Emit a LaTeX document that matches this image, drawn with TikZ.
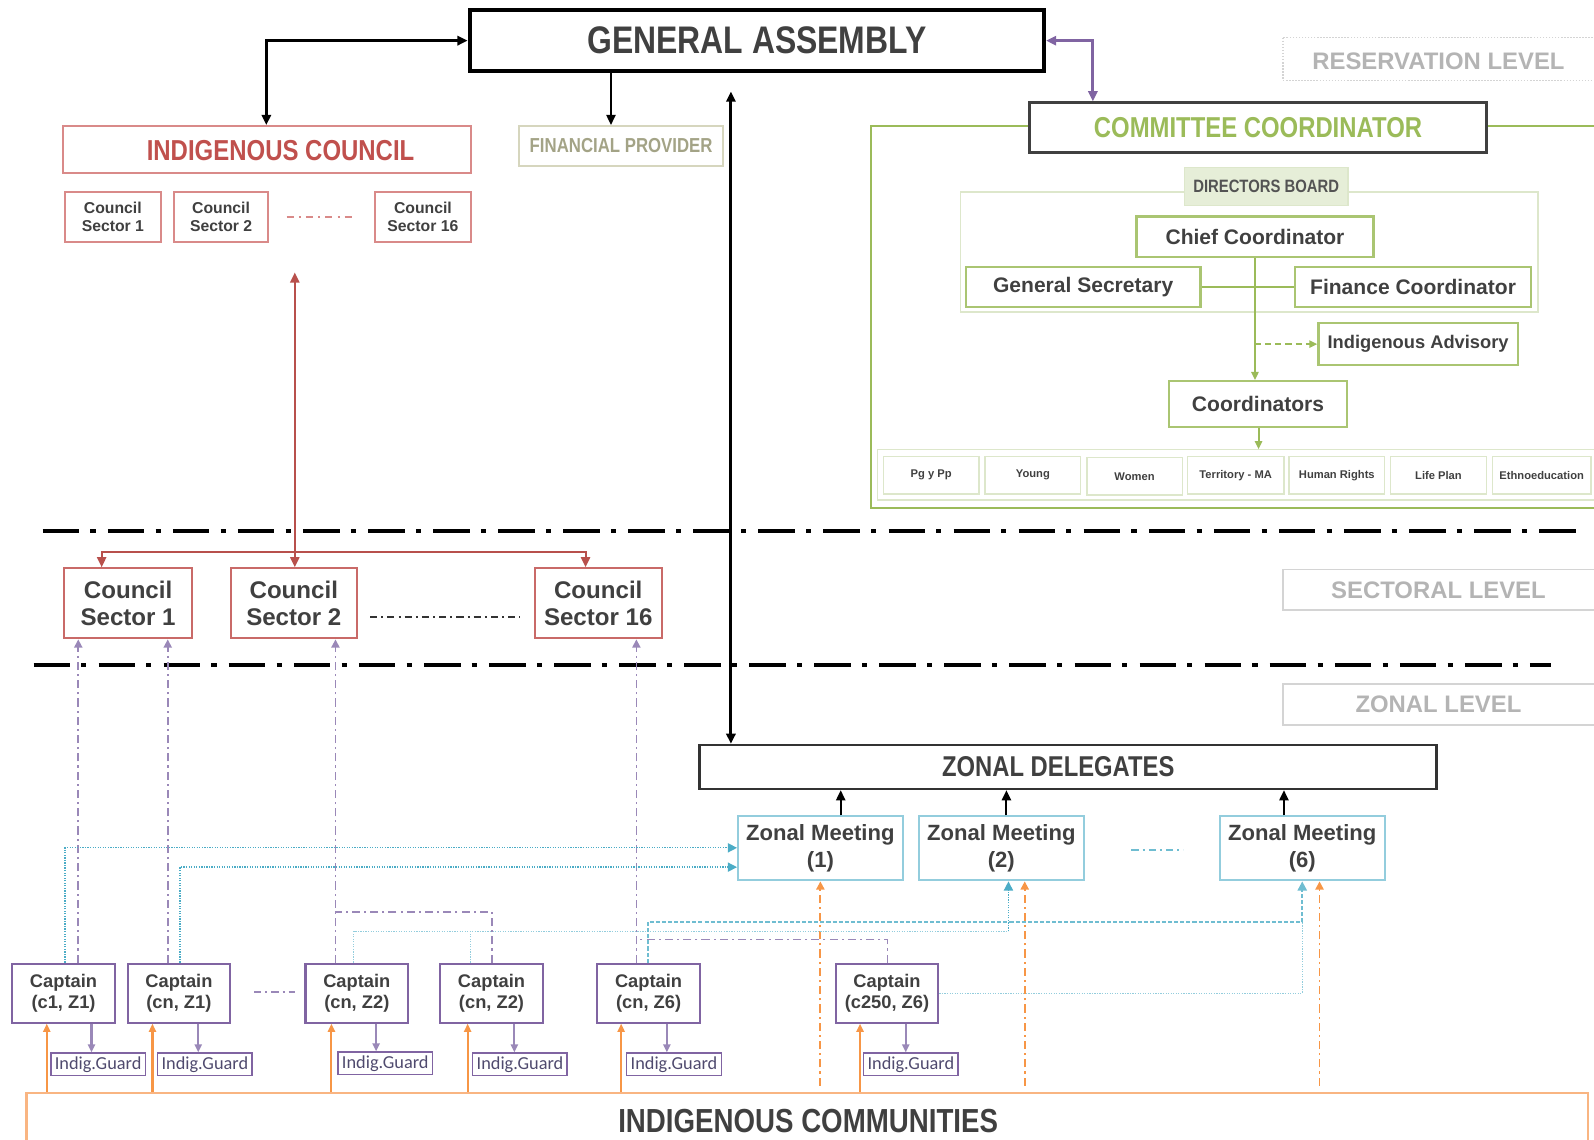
\documentclass[tikz,border=0pt]{standalone}
\usepackage{fontspec}
\setmainfont{Liberation Sans}
\newfontfamily\narrowfont{Liberation Sans}[FakeStretch=0.83]
\newfontfamily\guardfont{Carlito}
\usetikzlibrary{arrows.meta}

\definecolor{txt}{HTML}{404040}
\definecolor{redc}{HTML}{C0504D}
\definecolor{redb}{HTML}{D98A89}
\definecolor{redl}{HTML}{B8504C}
\definecolor{olivet}{HTML}{A3A386}
\definecolor{oliveb}{HTML}{D6D6BE}
\definecolor{greenc}{HTML}{9BBB59}
\definecolor{greenl}{HTML}{DDE7CB}
\definecolor{greenfill}{HTML}{E6EED8}
\definecolor{levelt}{HTML}{B4B4B4}
\definecolor{levelb}{HTML}{D4D4D4}
\definecolor{bluec}{HTML}{4BACC6}
\definecolor{blueb}{HTML}{93CDDD}
\definecolor{purplec}{HTML}{8064A2}
\definecolor{purplel}{HTML}{9A88B8}
\definecolor{orangec}{HTML}{F79646}
\definecolor{orangel}{HTML}{F9B582}
\definecolor{guardt}{HTML}{4F4A6E}

\newcommand\fs[2]{\fontsize{#1}{#2}\selectfont}

\tikzset{
  box/.style={draw, inner sep=0pt, align=center, text=txt},
  bigtip/.style={-{Triangle[length=10pt,width=9pt]}},
  bothtips/.style={{Triangle[length=10pt,width=9pt]}-{Triangle[length=10pt,width=9pt]}},
  smalltip/.style={-{Triangle[length=8pt,width=7pt]}},
  blackline/.style={line width=3pt, black},
  redline/.style={line width=2pt, redl},
  greenline/.style={line width=2pt, greenc},
  separator/.style={line width=4pt, black, dash pattern=on 36pt off 11pt on 5pt off 12pt},
  purpdash/.style={line width=1.6pt, purplel, dash pattern=on 8pt off 4pt on 2pt off 4pt},
  bluedot/.style={line width=1.3pt, blueb, dash pattern=on 1.2pt off 1.3pt},
  bluedash/.style={line width=2pt, bluec!80, dash pattern=on 4pt off 2pt},
  orangedash/.style={line width=1.8pt, orangec, dash pattern=on 8pt off 4pt on 2pt off 4pt},
  levelbox/.style={draw=levelb, line width=1.5pt},
  leveltext/.style={text=levelt, font=\fs{23.5}{28}\bfseries},
  heading/.style={font=\narrowfont\bfseries\fs{#1}{#1}},
  captain/.style={box, draw=purplec, line width=2pt, minimum width=101pt, minimum height=58pt, font=\fs{18}{20}\bfseries},
  guard/.style={box, draw=purplec, line width=1.5pt, minimum width=93pt, minimum height=22pt, text=guardt, font=\fs{18}{20}\guardfont},
  zonal/.style={box, draw=blueb, line width=2pt, minimum width=162pt, minimum height=63pt, font=\fs{21.7}{26}\bfseries},
  sectorbig/.style={box, draw=redc!85, line width=2pt, minimum height=69pt, font=\fs{23.7}{26}\bfseries},
  sectorsmall/.style={box, draw=redb, line width=2pt, minimum height=49pt, font=\fs{15.5}{18}\bfseries},
  greenbox/.style={box, draw=greenc!85, line width=2.2pt, font=\fs{20.7}{24}\bfseries},
  areabox/.style={box, draw=greenl, line width=1.5pt, minimum height=37pt, font=\fs{11}{13}\bfseries},
}

\begin{document}
\begin{tikzpicture}[x=1pt, y=-1pt]
\useasboundingbox (0,0) rectangle (1568,1121);
\clip (0,0) rectangle (1568,1121);

% ---------- reservation level ----------
\node[box, line width=4pt, minimum width=565pt, minimum height=60pt,
      heading=37.8] (GA) at (744.5,40) {GENERAL ASSEMBLY};

\node[box, draw=redb, line width=2pt, minimum width=401pt, minimum height=46pt] (IC) at (262.5,147) {};
\node[text=redc, heading=28.4] (ICt) at (276,148) {INDIGENOUS COUNCIL};

\node[sectorsmall, minimum width=94pt] (s1) at (111,213.5) {Council\\Sector 1};
\node[sectorsmall, minimum width=93pt] (s2) at (217.5,213.5) {Council\\Sector 2};
\node[sectorsmall, minimum width=94pt] (s16) at (416,213.5) {Council\\Sector 16};
\draw[redb, line width=2pt, dash pattern=on 7pt off 5pt on 2pt off 5pt] (282,213) -- (346,213);

\node[box, draw=oliveb, line width=2pt, minimum width=200pt, minimum height=39pt,
      text=olivet, heading=19.9] (FP) at (611,143.5) {FINANCIAL PROVIDER};

\draw[levelbox, dash pattern=on 1.5pt off 1.5pt] (1262,37) rectangle (1590,79);
\node[leveltext] (RL) at (1415,60) {RESERVATION LEVEL};

% committee frame
\draw[greenline] (857,124) rectangle (1600,500);
\node[box, draw=txt, line width=2.6pt, fill=white, minimum width=449pt, minimum height=49pt,
      text=greenc, heading=28.3] (CC) at (1237.5,125.5) {COMMITTEE COORDINATOR};

\draw[greenl, line width=1.5pt] (945,189) rectangle (1513,307);
\node[box, draw=greenl, fill=greenfill, line width=1.5pt, minimum width=161pt, minimum height=37pt,
      heading=17.6, text=txt!90] (DB) at (1245.5,183.5) {DIRECTORS BOARD};

\node[greenbox, minimum width=233pt, minimum height=40pt] (Chief) at (1234.5,233) {Chief Coordinator};
\node[greenbox, minimum width=231pt, minimum height=39pt] (GS) at (1065.5,282.5) {General Secretary};
\node[greenbox, minimum width=232pt, minimum height=39pt] (FC) at (1390,282.5) {Finance Coordinator};
\node[greenbox, minimum width=196pt, minimum height=41pt, font=\fs{18}{22}\bfseries] (IA) at (1395,338.5) {Indigenous Advisory};
\node[greenbox, minimum width=175pt, minimum height=45pt] (Coord) at (1237.5,397.5) {Coordinators};

\draw[greenl, line width=1.5pt] (863,442) rectangle (1600,492);
\coordinate (rowtop) at (1238,442);
\node[areabox, minimum width=94pt] (r1) at (916,467.5) {Pg y Pp};
\node[areabox, minimum width=94pt] (r2) at (1016,467.5) {Young};
\node[areabox, minimum width=94pt] (r3) at (1116,468.5) {Women};
\node[areabox, minimum width=95pt] (r4) at (1215.5,467.5) {Territory - MA};
\node[areabox, minimum width=94pt] (r5) at (1315,467.5) {Human Rights};
\node[areabox, minimum width=94pt] (r6) at (1415,467.5) {Life Plan};
\node[areabox, minimum width=97pt] (r7) at (1516.5,467.5) {Ethnoeducation};

\draw[greenline, smalltip] (Chief.south) -- (Chief.south |- Coord.north);
\draw[greenline] (GS.east) -- (FC.west);
\draw[greenline, smalltip, dash pattern=on 6pt off 4pt] (Chief.south |- IA.west) -- (IA.west);
\draw[greenline, smalltip] (Coord.south -| rowtop) -- (rowtop);

% ---------- level separators ----------
\draw[separator] (42,522) -- (1556,522);
\draw[separator] (33,654) -- (1526,654);

% ---------- sectoral level ----------
\node[sectorbig, minimum width=126pt] (CS1) at (126,593.5) {Council\\Sector 1};
\node[sectorbig, minimum width=124pt] (CS2) at (289,593.5) {Council\\Sector 2};
\node[sectorbig, minimum width=125pt] (CS16) at (588.5,593.5) {Council\\Sector 16};
\draw[black!80, line width=1.6pt, dash pattern=on 7pt off 4pt on 2pt off 4pt] (364,607) -- (512,607);

\draw[levelbox] (1262,560) rectangle (1590,600);
\node[leveltext] (SL) at (1415,581) {SECTORAL LEVEL};
\draw[levelbox] (1262,673) rectangle (1590,713);
\node[leveltext] (ZL) at (1415,693) {ZONAL LEVEL};

% ---------- zonal level ----------
\node[box, line width=2.6pt, draw=txt!80!black, minimum width=725pt, minimum height=43pt] (ZD) at (1050.5,754.5) {};
\node[text=txt, heading=28.2] (ZDt) at (1041,754) {ZONAL DELEGATES};

\node[zonal] (ZM1) at (807,834.5) {Zonal Meeting\\(1)};
\node[zonal] (ZM2) at (985,834.5) {Zonal Meeting\\(2)};
\node[zonal] (ZM6) at (1281,834.5) {Zonal Meeting\\(6)};
\draw[bluec!80, line width=1.6pt, dash pattern=on 7pt off 4pt on 2pt off 4pt] (1113,836) -- (1164,836);

\node[captain] (C1) at (62.5,977) {Captain\\(c1, Z1)};
\node[captain] (C2) at (176,977) {Captain\\(cn, Z1)};
\node[captain] (C3) at (351,977) {Captain\\(cn, Z2)};
\node[captain] (C4) at (483.5,977) {Captain\\(cn, Z2)};
\node[captain] (C5) at (638,977) {Captain\\(cn, Z6)};
\node[captain] (C6) at (872.5,977) {Captain\\(c250, Z6)};
\draw[purplel, line width=1.6pt, dash pattern=on 7pt off 4pt on 2pt off 4pt] (250,976) -- (290,976);

\node[guard] (G1) at (96.5,1047) {Indig.Guard};
\node[guard] (G2) at (201.5,1047) {Indig.Guard};
\node[guard] (G3) at (379,1046) {Indig.Guard};
\node[guard] (G4) at (511.5,1047) {Indig.Guard};
\node[guard] (G5) at (663,1047) {Indig.Guard};
\node[guard] (G6) at (896,1047) {Indig.Guard};

\node[box, draw=orangel, line width=2.4pt, minimum width=1536pt, minimum height=62pt] (COM) at (794,1106) {};
\node[text=txt, heading=32.8] (COMt) at (795,1103) {INDIGENOUS COMMUNITIES};

% ---------- connectors ----------
% general assembly links
\draw[blackline, bothtips] (GA.west) -| (IC.north -| 262,0);
\draw[line width=2pt, black, bigtip] (GA.south -| 601,0) -- (FP.north -| 601,0);
\coordinate (vtop) at (719,90);
\draw[blackline, bothtips] (vtop) -- (vtop |- ZD.north);
\draw[line width=3pt, purplec, bothtips] (GA.east) -| (CC.north -| 1075,0);

% council links
\coordinate (rtop) at (290,268);
\coordinate (rjoin) at (290,543);
\draw[redline, {Triangle[length=10pt,width=9pt]}-{Triangle[length=10pt,width=9pt]}] (rtop) -- (rtop |- CS2.north);
\draw[redline, bigtip] (rjoin) -| (CS1.north -| 100,0);
\draw[redline, bigtip] (rjoin) -| (CS16.north -| 576,0);

% zonal meetings to delegates
\draw[line width=2pt, black, bigtip] (ZM1.north -| 827,0) -- (ZD.south -| 827,0);
\draw[line width=2pt, black, bigtip] (ZM2.north -| 990,0) -- (ZD.south -| 990,0);
\draw[line width=2pt, black, bigtip] (ZM6.north -| 1263,0) -- (ZD.south -| 1263,0);

% captains to indigenous guard
\foreach \c/\g/\x in {C1/G1/90, C2/G2/195, C3/G3/370, C4/G4/506, C5/G5/656, C6/G6/891}
  \draw[line width=2pt, purplel, smalltip] (\c.south -| \x,0) -- (\g.north -| \x,0);

% communities to captains
\foreach \c/\x in {C1/46, C2/150, C3/326, C4/460, C5/611, C6/846}
  \draw[line width=2pt, orangec, smalltip] (COM.north -| \x,0) -- (\c.south -| \x,0);

% communities to zonal meetings
\coordinate (o1) at (807,1068);
\coordinate (o2) at (1008,1068);
\coordinate (o6) at (1298,1068);
\draw[orangedash, -{Triangle[length=8pt,width=8pt]}] (o1) -- (o1 |- ZM1.south);
\draw[orangedash, -{Triangle[length=8pt,width=8pt]}] (o2) -- (o2 |- ZM2.south);
\draw[orangedash, -{Triangle[length=8pt,width=8pt]}] (o6) -- (o6 |- ZM6.south);

% captains to sector councils
\draw[purpdash, -{Triangle[length=8pt,width=8pt]}] (C1.north -| 77,0) -- (CS1.south -| 77,0);
\draw[purpdash, -{Triangle[length=8pt,width=8pt]}] (C2.north -| 165,0) -- (CS1.south -| 165,0);
\draw[purpdash, -{Triangle[length=8pt,width=8pt]}] (C3.north -| 330,0) -- (CS2.south -| 330,0);
\draw[purpdash] (C4.north -| 484,0) |- (330,897);
\draw[purpdash, -{Triangle[length=8pt,width=8pt]}] (C5.north -| 626,0) -- (CS16.south -| 626,0);
\draw[purpdash] (C6.north -| 873,0) |- (627,924);

% captains to zonal meetings
\draw[bluedot, -{Triangle[length=9pt,width=9pt]}, bluec] (C1.north -| 64,0) |- (ZM1.west |- 0,834);
\draw[bluedot, -{Triangle[length=9pt,width=9pt]}, bluec] (C2.north -| 177,0) |- (ZM1.west |- 0,853);
\draw[bluedot] (C3.north -| 348,0) |- (992,916);
\draw[bluedot] (C4.north -| 463,0) -- (463,916);
\draw[bluedot, -{Triangle[length=9pt,width=9pt]}, bluec] (992,916) -- (ZM2.south -| 992,0);
\draw[bluedash, -{Triangle[length=9pt,width=9pt]}] (C5.north -| 637,0) |- (1281,907) -- (ZM6.south -| 1281,0);
\draw[bluedot] (C6.east |- 0,977) -| (1281,907);

\end{tikzpicture}
\end{document}
